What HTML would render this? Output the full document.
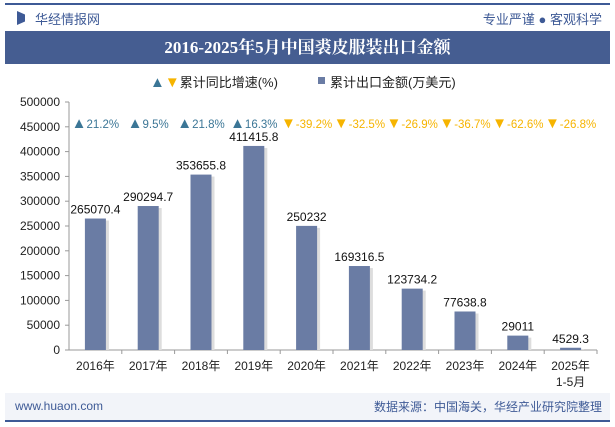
<!DOCTYPE html>
<html><head><meta charset="utf-8"><style>
body{margin:0;width:615px;height:427px;background:#fff;font-family:"Liberation Sans","Noto Sans CJK SC",sans-serif;overflow:hidden;position:relative}
.abs{position:absolute}
</style></head><body>
<div class="abs" style="left:5px;top:3px;width:605px;height:2px;background:#3e5a96"></div>
<div class="abs" style="left:17px;top:11px;width:8px;height:14px;background:#3e5a96;clip-path:polygon(0 0,100% 25%,100% 75%,0 100%)"></div>
<div class="abs" style="left:35px;top:9px;font-size:13px;color:#3e5a96">华经情报网</div>
<div class="abs" style="right:13px;top:9px;font-size:13px;color:#3e5a96">专业严谨 ● 客观科学</div>
<div class="abs" style="left:5px;top:31px;width:605px;height:33px;background:#455d91;color:#fff;font-family:'Liberation Serif','Noto Serif CJK SC',serif;font-weight:bold;font-size:17px;text-align:center;line-height:33px">2016-2025年5月中国裘皮服装出口金额</div>
<div class="abs" style="left:5px;top:393px;width:605px;height:27px;background:#f2f4f9"></div>
<div class="abs" style="left:15px;top:399px;font-size:12px;color:#3e5a96">www.huaon.com</div>
<div class="abs" style="right:13px;top:398px;font-size:12px;color:#3e5a96">数据来源：中国海关，华经产业研究院整理</div>
<div class="abs" style="left:5px;top:420px;width:605px;height:2px;background:#3e5a96"></div>
<svg id="chart" class="abs" style="left:0;top:0" width="615" height="427"></svg>
<script>
const categories=["2016年","2017年","2018年","2019年","2020年","2021年","2022年","2023年","2024年","2025年"];
const values=[265070.4,290294.7,353655.8,411415.8,250232,169316.5,123734.2,77638.8,29011,4529.3];
const growth=[21.2,9.5,21.8,16.3,-39.2,-32.5,-26.9,-36.7,-62.6,-26.8];
const yTicks=[0,50000,100000,150000,200000,250000,300000,350000,400000,450000,500000];
const NS="http://www.w3.org/2000/svg";
const svg=document.getElementById('chart');
const x0=69,x1=597,y0=350,yTop=102;
const band=(x1-x0)/categories.length;
const xc=i=>x0+band*(i+0.5);
const y=v=>y0-(v/500000)*(y0-yTop);
function mk(t,a,txt){const e=document.createElementNS(NS,t);for(const k in a)e.setAttribute(k,a[k]);if(txt!==undefined)e.textContent=txt;svg.appendChild(e);return e;}
let e;
e=mk('line',{x1:x0,y1:y0,x2:x1,y2:y0,stroke:'#999'});


e=mk('line',{x1:x0,y1:yTop,x2:x0,y2:y0,stroke:'#999'});


yTicks.forEach(t=>{
 e=mk('text',{x:x0-9,y:y(t)+4,'text-anchor':'end','font-size':12,fill:'#222'},String(t));
 
 
 mk('line',{x1:x0-4,y1:y(t),x2:x0,y2:y(t),stroke:'#999'});
});
categories.forEach((c,i)=>{
 mk('line',{x1:x0+band*(i+1),y1:y0,x2:x0+band*(i+1),y2:y0+4,stroke:'#999'});
 e=mk('text',{x:xc(i),y:370,'text-anchor':'middle','font-size':12,fill:'#222'},c);
 
 
 if(i===categories.length-1){e=mk('text',{x:xc(i),y:386,'text-anchor':'middle','font-size':12,fill:'#222'},'1-5月');
 
 }
 const bw=21;
 mk('rect',{x:xc(i)-bw/2+3,y:y(values[i])+2,width:bw,height:y0-y(values[i])-2,fill:'#ddd'});
 e=mk('rect',{x:xc(i)-bw/2,y:y(values[i]),width:bw,height:y0-y(values[i]),fill:'#6a7ca4'});
 
 
 e=mk('text',{x:xc(i),y:y(values[i])-5,'text-anchor':'middle','font-size':12,fill:'#111'},String(values[i]));
 
 
 const up=growth[i]>=0;
 e=mk('text',{x:xc(i),y:128,'text-anchor':'middle','font-size':11.5,fill:up?'#3b7696':'#f6b400'});
 e.innerHTML='<tspan font-size="15">'+(up?'▲':'▼')+'</tspan>'+growth[i]+'%';
 
 
});
e=mk('text',{x:150,y:87,'font-size':13,fill:'#222'});
e.innerHTML='<tspan fill="#3b7696" font-size="15">▲</tspan><tspan fill="#f6b400" font-size="15">▼</tspan>累计同比增速(%)';


e=mk('rect',{x:318,y:77,width:7,height:7,fill:'#6a7ca4'});
e=mk('text',{x:330,y:87,'font-size':13,fill:'#222'},'累计出口金额(万美元)');


</script>
</body></html>
